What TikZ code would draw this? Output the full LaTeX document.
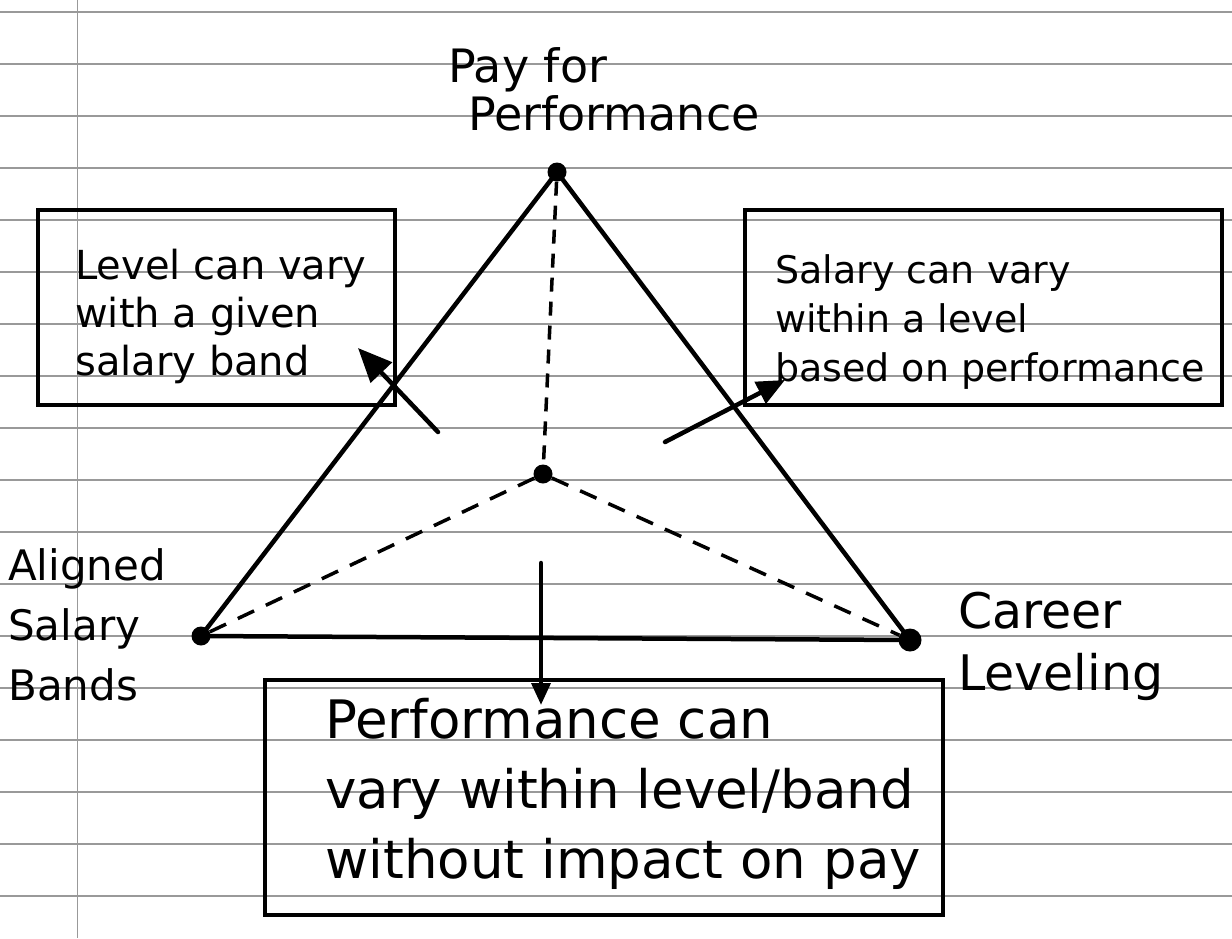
\documentclass[tikz,border=0pt]{standalone}
\usepackage{fontspec}
\setmainfont{DejaVu Sans}
\usetikzlibrary{arrows.meta}
\tikzset{
  rule/.style={draw=gray!80, line width=1.5pt},
  pen/.style={line width=4.5pt, line cap=round, line join=round},
  dashpen/.style={line width=3.5pt, dash pattern=on 18pt off 13pt},
  dot/.style={circle, fill=black, inner sep=0pt, minimum size=19pt},
  box/.style={draw, line width=4.5pt, anchor=center, inner sep=0pt},
  arr/.style={pen, -{Triangle[length=#1, width=0.85*#1]}},
  lbl/.style={align=left, anchor=north west, inner sep=0pt},
  txt/.style={align=left, anchor=west, inner sep=0pt},
}
\begin{document}
\begin{tikzpicture}[x=1pt, y=-1pt]
\useasboundingbox (0,0) rectangle (1232,938);
% ruled paper
\foreach \k in {0,...,17} \draw[rule] (0,{12+52*\k}) -- (1232,{12+52*\k});
\draw[rule] (77.5,0) -- (77.5,938);

% vertices
\node[dot] (T) at (557,172) {};
\node[dot] (L) at (201,636) {};
\node[dot, minimum size=23pt] (R) at (910,640) {};
\node[dot] (C) at (543,474) {};

% triangle
\draw[pen] (T.center) -- (L.center) -- (R.center) -- cycle;
\draw[dashpen, dash pattern=on 14pt off 10pt] (T) -- (C);
\draw[dashpen] (C) -- (L);
\draw[dashpen] (C) -- (R);

% boxes
\node[box, minimum width=357pt, minimum height=195pt] (lbox) at (216.5,307.5) {};
\node[box, minimum width=477pt, minimum height=195pt] (rbox) at (983.5,307.5) {};
\node[box, minimum width=678pt, minimum height=235pt] (bbox) at (604,797.5) {};

% box texts
\node[txt, font=\fontsize{40}{48}\selectfont] (ltext) at (75,316)
      {Level can vary\\with a given\\salary band};
\node[txt, font=\fontsize{38}{49}\selectfont] (rtext) at (775,322)
      {Salary can vary\\within a level\\based on performance};
\node[txt, font=\fontsize{53}{70}\selectfont] (btext) at (325,794)
      {Performance can\\vary within level/band\\without impact on pay};

% labels
\node[lbl, font=\fontsize{46}{48}\selectfont] (ptitle) at (448,47)
      {Pay for\\\hspace{20pt}Performance};
\node[lbl, font=\fontsize{42}{60}\selectfont] (align) at (8,548)
      {Aligned\\Salary\\Bands};
\node[lbl, font=\fontsize{49}{62}\selectfont] (career) at (958,592)
      {Career\\Leveling};

% arrows
\coordinate (la0) at (438,432);
\coordinate (la1) at (358,348);
\coordinate (ra0) at (665,442);
\coordinate (ra1) at (785,380);
\coordinate (ba0) at (541,563);
\coordinate (ba1) at (541,705);
\draw[arr=34pt] (la0) -- (la1);
\draw[arr=28pt] (ra0) -- (ra1);
\draw[arr=22pt] (ba0) -- (ba1);
\end{tikzpicture}
\end{document}
